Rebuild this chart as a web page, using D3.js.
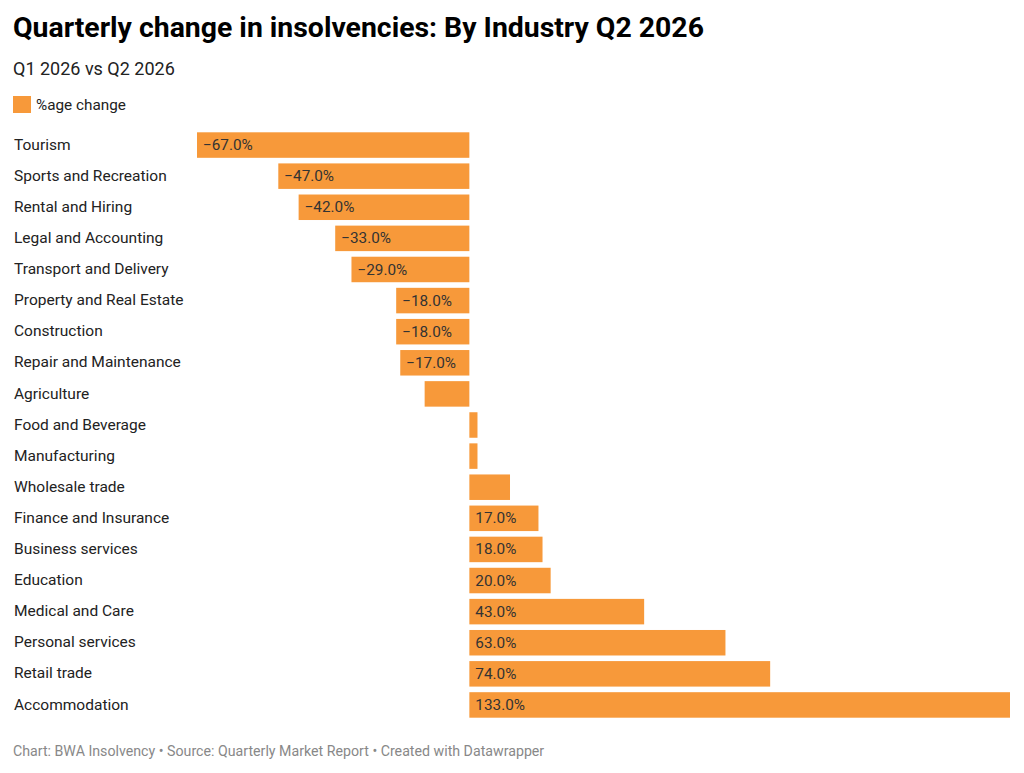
<!DOCTYPE html>
<html>
<head>
<meta charset="utf-8">
<script src="https://cdn.jsdelivr.net/npm/d3@7"></script>
<style>
  body { margin: 0; background: #fff; font-family: Roboto, sans-serif; }
</style>
</head>
<body>
<svg id="chart" width="1024" height="773"></svg>
<script>
var industries = ["Tourism", "Sports and Recreation", "Rental and Hiring", "Legal and Accounting",
  "Transport and Delivery", "Property and Real Estate", "Construction", "Repair and Maintenance",
  "Agriculture", "Food and Beverage", "Manufacturing", "Wholesale trade", "Finance and Insurance",
  "Business services", "Education", "Medical and Care", "Personal services", "Retail trade",
  "Accommodation"];
var pctChange = [-67, -47, -42, -33, -29, -18, -18, -17, -11, 2, 2, 10, 17, 18, 20, 43, 63, 74, 133];

var svg = d3.select("#chart");
var barColor = "#f7993a";

svg.append("text").attr("x", 13).attr("y", 37)
  .style("font-size", "28.4px").style("font-weight", "700").attr("fill", "#000")
  .text("Quarterly change in insolvencies: By Industry Q2 2026");

svg.append("text").attr("x", 13).attr("y", 75)
  .style("font-size", "18px").attr("fill", "#222")
  .text("Q1 2026 vs Q2 2026");

// legend
svg.append("rect").attr("x", 13).attr("y", 96).attr("width", 18).attr("height", 17).attr("fill", barColor);
svg.append("text").attr("x", 36).attr("y", 110)
  .style("font-size", "15.3px").attr("fill", "#222").text("%age change");

var x = d3.scaleLinear().domain([-67, 133]).range([197, 1010]);
var y = d3.scaleBand().domain(industries).range([129.5, 720.5]).paddingInner(0.18).paddingOuter(0.09);

var rows = svg.append("g").selectAll("g")
  .data(industries.map(function(d, i) { return { name: d, value: pctChange[i] }; }))
  .join("g");

rows.append("text")
  .attr("x", 14)
  .attr("y", function(d) { return y(d.name) + y.bandwidth() / 2; })
  .attr("dy", "0.3em")
  .style("font-size", "15.5px").attr("fill", "#222")
  .text(function(d) { return d.name; });

rows.append("rect")
  .attr("x", function(d) { return x(Math.min(0, d.value)); })
  .attr("y", function(d) { return y(d.name); })
  .attr("width", function(d) { return Math.abs(x(d.value) - x(0)); })
  .attr("height", y.bandwidth())
  .attr("fill", barColor);

var fmt = d3.format(".1f");
rows.filter(function(d) { return Math.abs(x(d.value) - x(0)) > 50; })
  .append("text")
  .attr("x", function(d) { return x(Math.min(0, d.value)) + 6; })
  .attr("y", function(d) { return y(d.name) + y.bandwidth() / 2; })
  .attr("dy", "0.33em")
  .style("font-size", "15.3px").attr("fill", "#333")
  .text(function(d) { return fmt(d.value) + "%"; });

svg.append("text").attr("x", 13).attr("y", 756)
  .style("font-size", "14.2px").attr("fill", "#888")
  .text("Chart: BWA Insolvency \u2022 Source: Quarterly Market Report \u2022 Created with Datawrapper");
</script>
</body>
</html>
